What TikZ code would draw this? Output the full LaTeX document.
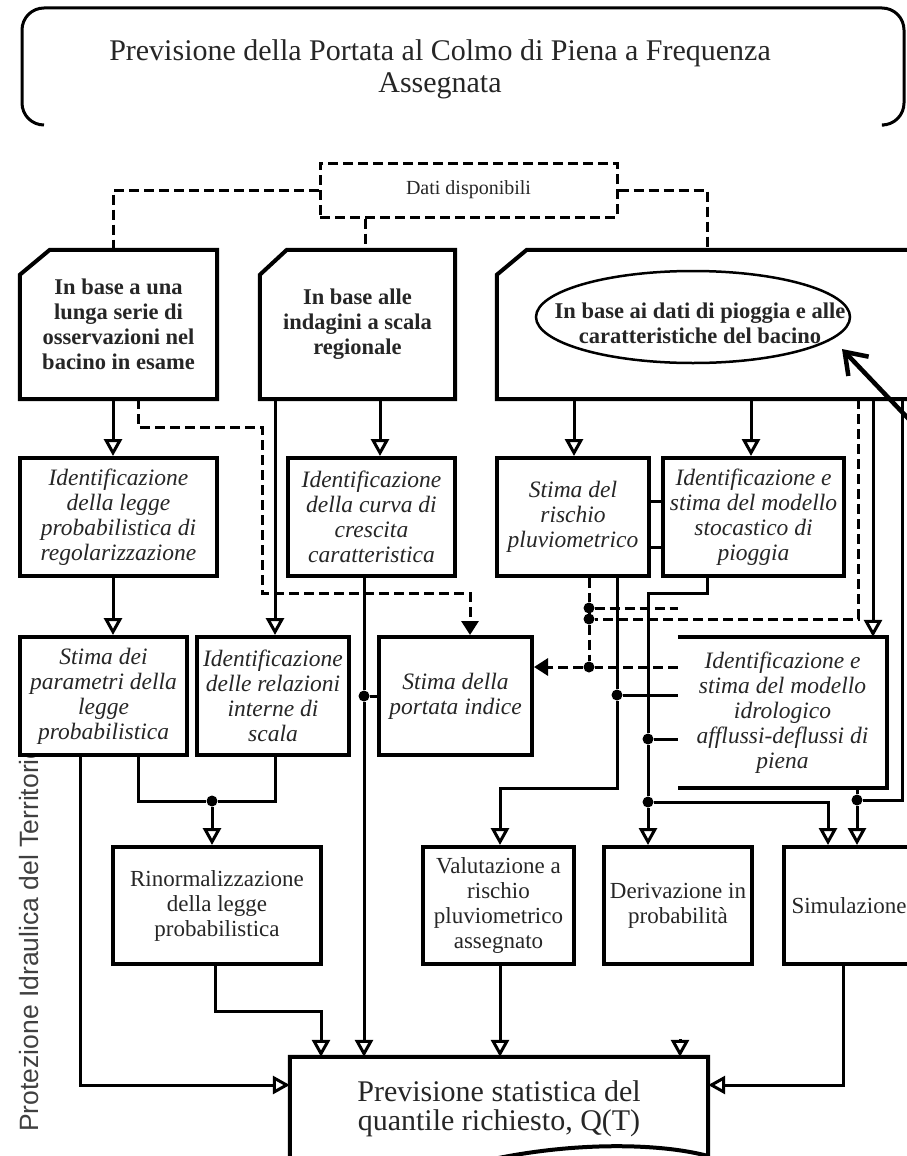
\documentclass[tikz,border=0pt]{standalone}
\usepackage{fontspec}
\setmainfont{Liberation Serif}
\newfontfamily\sidefont{Liberation Sans}
\usetikzlibrary{arrows.meta,calc,shapes.geometric}
\begin{document}
\begin{tikzpicture}[x=1pt,y=-1pt,
  frame/.style={line width=4pt,line join=miter},
  rbox/.style={draw,fill=white,line width=4pt,inner sep=0pt,align=center,text=black!85},
  tbox/.style={inner sep=0pt,align=center,text=black!85},
  conn/.style={line width=3pt},
  dsh/.style={line width=3pt,dash pattern=on 10pt off 5pt},
  harrow/.style={-{Triangle[open,length=17pt,width=18pt,line width=3pt]}},
  farrow/.style={-{Triangle[length=14pt,width=17pt]}},
  jdot/.style={circle,fill=black,inner sep=0pt,minimum size=11pt},
  bfont/.style={font=\fontsize{22.5}{25}\selectfont\bfseries},
  ifont/.style={font=\fontsize{23.5}{25}\selectfont\itshape},
  nfont/.style={font=\fontsize{23}{25}\selectfont},
]
\useasboundingbox (0,0) rectangle (907,1156);
\clip (0,0) rectangle (907,1156);

% side label
\node[rotate=90,anchor=west,inner sep=0pt,font=\sidefont\fontsize{26.5}{27}\selectfont,text=black!75] (side) at (29,1132) {Protezione Idraulica del Territorio};

% title
\node[tbox,font=\fontsize{30}{32}\selectfont] (title) at (440,69) {Previsione della Portata al Colmo di Piena a Frequenza\\Assegnata};
\draw[line width=3pt,rounded corners=22pt] (44,125) -- (22,125) -- (22,8) -- (904,8) -- (904,125) -- (884,125);

% data box
\node[tbox,draw,dsh,minimum width=297pt,minimum height=54pt,font=\fontsize{20}{22}\selectfont] (dati) at (468.5,190) {Dati disponibili};

% top boxes
\node[tbox,bfont,minimum width=197pt,minimum height=149pt] (b1) at (118.5,324.5) {In base a una\\lunga serie di\\osservazioni nel\\bacino in esame};
\draw[frame] ($(b1.north west)+(30,0)$) -- (b1.north east) -- (b1.south east) -- (b1.south west) -- ($(b1.north west)+(0,25)$) -- cycle;
\node[tbox,bfont,minimum width=195pt,minimum height=149pt] (b2) at (357.5,324.5) {In base alle\\indagini a scala\\regionale};
\draw[frame] ($(b2.north west)+(27,0)$) -- (b2.north east) -- (b2.south east) -- (b2.south west) -- ($(b2.north west)+(0,25)$) -- cycle;
\node[tbox,minimum width=433pt,minimum height=149pt] (b3) at (713.5,324.5) {};
\draw[frame] ($(b3.north west)+(30,0)$) -- (b3.north east) -- (b3.south east) -- (b3.south west) -- ($(b3.north west)+(0,25)$) -- cycle;
\node[ellipse,draw,line width=2.5pt,inner sep=0pt,minimum width=314pt,minimum height=92pt] (ell) at (693,317) {};
\node[tbox,bfont] (elltxt) at (700,323) {In base ai dati di pioggia e alle\\caratteristiche del bacino};

% row 2
\node[rbox,ifont,minimum width=197pt,minimum height=118pt] (bA) at (118.5,517) {Identificazione\\della legge\\probabilistica di\\regolarizzazione};
\node[rbox,ifont,minimum width=167pt,minimum height=118pt] (bB) at (371.5,517) {Identificazione\\della curva di\\crescita\\caratteristica};
\node[rbox,ifont,minimum width=152pt,minimum height=118pt] (bG) at (573,517) {Stima del\\rischio\\pluviometrico};
\node[rbox,ifont,minimum width=181pt,minimum height=118pt] (bH) at (753.5,517) {Identificazione e\\stima del modello\\stocastico di\\pioggia};

% row 3
\node[rbox,ifont,minimum width=167pt,minimum height=118pt] (bC) at (103.5,696) {Stima dei\\parametri della\\legge\\probabilistica};
\node[rbox,ifont,minimum width=152pt,minimum height=118pt] (bD) at (273,696) {Identificazione\\delle relazioni\\interne di\\scala};
\node[rbox,ifont,minimum width=153pt,minimum height=118pt] (bE) at (455.5,696) {Stima della\\portata indice};
\node[tbox,ifont,minimum width=209pt,minimum height=151pt] (bF) at (782.5,712.5) {Identificazione e\\stima del modello\\idrologico\\afflussi-deflussi di\\piena};
\draw[frame] (bF.north west) -- (bF.north east) -- (bF.south east) -- (bF.south west);

% row 4
\node[rbox,nfont,minimum width=208pt,minimum height=117pt] (bR) at (217,905.5) {Rinormalizzazione\\della legge\\probabilistica};
\node[rbox,nfont,minimum width=151pt,minimum height=117pt] (bV) at (498.5,905.5) {Valutazione a\\rischio\\pluviometrico\\assegnato};
\node[rbox,nfont,minimum width=148pt,minimum height=117pt] (bDer) at (678,905.5) {Derivazione in\\probabilit\`a};
\node[rbox,nfont,minimum width=130pt,minimum height=117pt] (bS) at (849,905.5) {Simulazione};

% final
\node[tbox,font=\fontsize{30}{29}\selectfont,minimum width=418pt,minimum height=104pt] (bQ) at (499,1109) {Previsione statistica del\\quantile richiesto, Q(T)};
\draw[frame] ([yshift=-20pt]bQ.south west) -- (bQ.north west) -- (bQ.north east) -- (708,1156) .. controls (660,1143) and (570,1141) .. (480,1162);

% junctions
\node[jdot] (j2) at (589,608) {};
\node[jdot] (j2b) at (589,619) {};
\node[jdot] (j3) at (589,667) {};
\node[jdot] (j4) at (364,696) {};
\node[jdot] (j5) at (212,801) {};
\node[jdot] (j6) at (617,695) {};
\node[jdot] (j7) at (648,739) {};
\node[jdot] (j8) at (648,802) {};
\node[jdot] (j9) at (857,800) {};
\coordinate (stubE) at (678,608);
\coordinate (lone) at (680,1039);

% dashed connectors
\draw[dsh] (dati.west) -| (b1.north -| 113,0);
\draw[dsh] (dati.south -| 365,0) -- (b2.north -| 365,0);
\draw[dsh] (dati.east) -| (b3.north -| 707,0);
\draw[dsh,farrow] (b1.south -| 138,0) -- (138,427) -- (262,427) -- (262,593) -- (470,593) -- (bE.north -| 470,0);
\draw[dsh] (b3.south -| 858,0) |- (j2b);
\draw[dsh] (j2) -- (stubE);
\draw[dsh] (bG.south -| 589,0) -- (j2) -- (j2b) -- (j3);
\draw[dsh,farrow] (bF.west |- 0,667) -- (j3) -- (bE.east |- 0,667);

% solid connectors
\draw[conn,harrow] (b1.south -| 113,0) -- (bA.north -| 113,0);
\draw[conn,harrow] (b2.south -| 275,0) -- (bD.north -| 275,0);
\draw[conn,harrow] (b2.south -| 380,0) -- (bB.north -| 380,0);
\draw[conn,harrow] (b3.south -| 574,0) -- (bG.north -| 574,0);
\draw[conn,harrow] (b3.south -| 751,0) -- (bH.north -| 751,0);
\draw[conn,harrow] (b3.south -| 873,0) -- (bF.north -| 873,0);
\draw[conn] (b3.south -| 902,0) |- (j9);
\draw[conn,harrow] (bF.south -| 857,0) -- (j9) -- (bS.north -| 857,0);
\draw[conn,harrow] (bA.south -| 113,0) -- (bC.north -| 113,0);
\draw[conn] (bC.south -| 138,0) |- (j5) -| (bD.south -| 275,0);
\draw[conn,harrow] (j5) -- (bR.north -| 212,0);
\draw[conn,harrow] (bC.south -| 80,0) |- (bQ.west |- 0,1085);
\draw[conn,harrow] (bB.south -| 364,0) -- (j4) -- (bQ.north -| 364,0);
\draw[conn] (j4) -- (bE.west);
\draw[conn,harrow] (bR.south -| 215,0) -- (215,1011) -| (bQ.north -| 321,0);
\draw[conn,harrow] (bG.south -| 617,0) -- (j6) -- (617,788) -| (bV.north -| 500,0);
\draw[conn] (j6) -- (bF.west |- j6);
\draw[conn,harrow] (bH.south -| 707,0) -- (707,593) -| (j7) -- (j8) -- (bDer.north -| 648,0);
\draw[conn] (j7) -- (bF.west |- j7);
\draw[conn,harrow] (j8) -| (bS.north -| 828,0);
\draw[conn,harrow] (bV.south -| 500,0) -- (bQ.north -| 500,0);
\draw[conn,harrow] (bS.south -| 843,0) |- (bQ.east |- 0,1085);
\draw[conn,harrow] (lone) -- (bQ.north -| 680,0);
\draw[conn] (bG.east |- 0,501) -- (bH.west |- 0,501);
\draw[conn] (bG.east |- 0,547) -- (bH.west |- 0,547);

% pointer arrow
\coordinate (ptrS) at (922,433);
\coordinate (ptrE) at (842,349);
\draw[line width=4.5pt,-{Straight Barb[length=20pt,width=28pt,line width=4.5pt]}] (ptrS) -- (ptrE);
\end{tikzpicture}
\end{document}
